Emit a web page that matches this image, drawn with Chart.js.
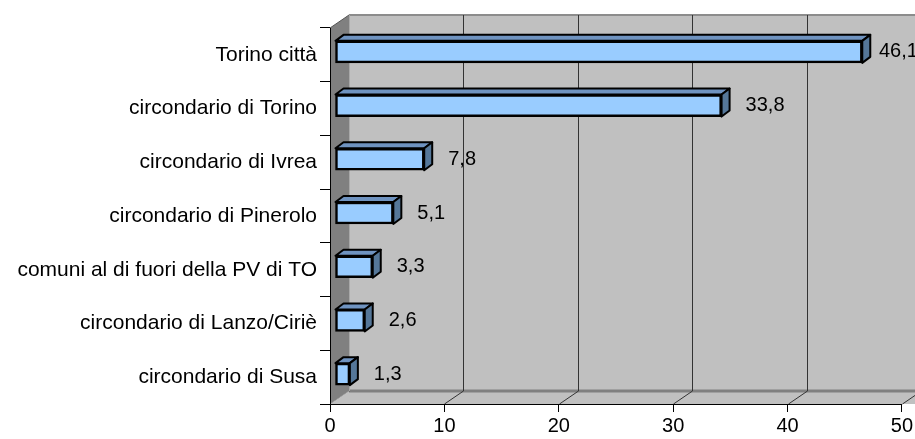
<!DOCTYPE html>
<html>
<head>
<meta charset="utf-8">
<script src="https://cdn.jsdelivr.net/npm/chart.js@4.4.1/dist/chart.umd.min.js"></script>
<style>
  html, body { margin: 0; padding: 0; background: #fff; }
  #chart { display: block; }
</style>
</head>
<body>
<canvas id="chart" width="915" height="439"></canvas>
<script>
// data
const categories = ['Torino città', 'circondario di Torino', 'circondario di Ivrea', 'circondario di Pinerolo',
    'comuni al di fuori della PV di TO', 'circondario di Lanzo/Ciriè', 'circondario di Susa'];
const values = [46.1, 33.8, 7.8, 5.1, 3.3, 2.6, 1.3];
const xTicks = [0, 10, 20, 30, 40, 50];

// 3D look
const DEPTH_X = 19, DEPTH_Y = 13;   // wall depth
const BAR_DX = 8, BAR_DY = 6;       // bar depth
const BAR_SHIFT_X = 5, BAR_SHIFT_Y = -3;
const FONT = '"Liberation Sans", Arial, sans-serif';

const fmt = v => String(v).replace('.', ',');

const walls3d = {
    id: 'walls3d',
    beforeDraw(chart) {
        const { ctx, chartArea: a, scales: { x } } = chart;
        const w = chart.width + 40;
        ctx.save();
        // back wall
        ctx.fillStyle = '#c0c0c0';
        ctx.fillRect(a.left + DEPTH_X, a.top - DEPTH_Y, w, a.bottom - a.top);
        ctx.strokeStyle = '#8c8c8c';
        ctx.lineWidth = 2;
        ctx.beginPath();
        ctx.moveTo(a.left + DEPTH_X, a.top - DEPTH_Y);
        ctx.lineTo(w, a.top - DEPTH_Y);
        ctx.stroke();
        // floor
        ctx.fillStyle = '#c0c0c0';
        ctx.beginPath();
        ctx.moveTo(a.left, a.bottom);
        ctx.lineTo(a.left + DEPTH_X, a.bottom - DEPTH_Y);
        ctx.lineTo(w, a.bottom - DEPTH_Y);
        ctx.lineTo(w, a.bottom);
        ctx.closePath();
        ctx.fill();
        ctx.strokeStyle = '#808080';
        ctx.lineWidth = 3;
        ctx.beginPath();
        ctx.moveTo(a.left + DEPTH_X, a.bottom - DEPTH_Y);
        ctx.lineTo(w, a.bottom - DEPTH_Y);
        ctx.stroke();
        // grid lines on the back wall and the floor
        ctx.strokeStyle = '#333';
        ctx.lineWidth = 1;
        xTicks.forEach(t => {
            const px = Math.round(x.getPixelForValue(t)) + 0.5;
            ctx.beginPath();
            if (t > 0) {
                ctx.moveTo(px + DEPTH_X, a.top - DEPTH_Y);
                ctx.lineTo(px + DEPTH_X, a.bottom - DEPTH_Y);
            }
            ctx.moveTo(px, a.bottom);
            ctx.lineTo(px + DEPTH_X, a.bottom - DEPTH_Y);
            ctx.stroke();
        });
        // left wall
        ctx.fillStyle = '#808080';
        ctx.beginPath();
        ctx.moveTo(a.left, a.top);
        ctx.lineTo(a.left + DEPTH_X, a.top - DEPTH_Y);
        ctx.lineTo(a.left + DEPTH_X, a.bottom - DEPTH_Y);
        ctx.lineTo(a.left, a.bottom);
        ctx.closePath();
        ctx.fill();
        ctx.strokeStyle = '#555';
        ctx.lineWidth = 1;
        ctx.beginPath();
        ctx.moveTo(a.left, a.top);
        ctx.lineTo(a.left + DEPTH_X, a.top - DEPTH_Y);
        ctx.stroke();
        ctx.strokeStyle = '#a8a8a8';
        ctx.beginPath();
        ctx.moveTo(a.left + DEPTH_X + 0.5, a.top - DEPTH_Y);
        ctx.lineTo(a.left + DEPTH_X + 0.5, a.bottom - DEPTH_Y);
        ctx.stroke();
        // floor corner under the left wall
        ctx.fillStyle = '#c0c0c0';
        ctx.beginPath();
        ctx.moveTo(a.left, a.bottom);
        ctx.lineTo(a.left + DEPTH_X, a.bottom - DEPTH_Y);
        ctx.lineTo(a.left + DEPTH_X, a.bottom);
        ctx.closePath();
        ctx.fill();
        ctx.restore();
    },
    beforeDatasetsDraw(chart) {
        chart.ctx.save();
        chart.ctx.translate(BAR_SHIFT_X, BAR_SHIFT_Y);
    },
    afterDatasetsDraw(chart) {
        const ctx = chart.ctx;
        const meta = chart.getDatasetMeta(0);
        ctx.lineWidth = 2;
        ctx.strokeStyle = '#000';
        ctx.lineJoin = 'round';
        const labels = [];
        meta.data.forEach((bar, i) => {
            const { x, y, base, height } = bar.getProps(['x', 'y', 'base', 'height'], true);
            const top = y - height / 2, bottom = y + height / 2;
            // top face
            ctx.fillStyle = '#6f93c0';
            ctx.beginPath();
            ctx.moveTo(base, top);
            ctx.lineTo(base + BAR_DX, top - BAR_DY);
            ctx.lineTo(x + BAR_DX, top - BAR_DY);
            ctx.lineTo(x, top);
            ctx.closePath();
            ctx.fill();
            ctx.stroke();
            // side face
            ctx.fillStyle = '#557799';
            ctx.beginPath();
            ctx.moveTo(x, top);
            ctx.lineTo(x + BAR_DX, top - BAR_DY);
            ctx.lineTo(x + BAR_DX, bottom - BAR_DY);
            ctx.lineTo(x, bottom);
            ctx.closePath();
            ctx.fill();
            ctx.stroke();
            labels.push({ x: x + BAR_DX + BAR_SHIFT_X, y: y + BAR_SHIFT_Y, text: fmt(values[i]) });
        });
        ctx.restore();
        // value labels
        ctx.save();
        ctx.font = '20px ' + FONT;
        ctx.fillStyle = '#000';
        ctx.textBaseline = 'middle';
        labels.forEach(l => {
            const tx = Math.min(l.x + 16, 879);
            ctx.fillText(l.text, tx, l.y);
        });
        ctx.restore();
    }
};

new Chart(document.getElementById('chart'), {
    type: 'bar',
    data: {
        labels: categories,
        datasets: [{
            data: values,
            backgroundColor: '#99ccff',
            borderColor: '#000',
            borderWidth: 2.5,
            borderSkipped: false,
            barThickness: 22
        }]
    },
    options: {
        indexAxis: 'y',
        responsive: false,
        devicePixelRatio: 1,
        animation: false,
        layout: { padding: { top: 28, right: 7, left: 0, bottom: 0 } },
        plugins: { legend: { display: false }, tooltip: { enabled: false } },
        scales: {
            x: {
                min: 0, max: 50,
                afterBuildTicks: s => { s.ticks = xTicks.map(v => ({ value: v })); },
                afterFit: s => { s.height = 35; },
                grid: { drawOnChartArea: false, drawTicks: true, tickLength: 8, color: '#000' },
                border: { display: true, color: '#000', width: 1 },
                ticks: { color: '#000', padding: 2, font: { family: FONT, size: 20 }, maxRotation: 0 }
            },
            y: {
                afterFit: s => { s.width = 330; },
                grid: { drawOnChartArea: false, drawTicks: true, tickLength: 10, color: '#000' },
                border: { display: true, color: '#000', width: 1 },
                ticks: { color: '#000', padding: 3, font: { family: FONT, size: 21 }, autoSkip: false }
            }
        }
    },
    plugins: [walls3d]
});
</script>
</body>
</html>
